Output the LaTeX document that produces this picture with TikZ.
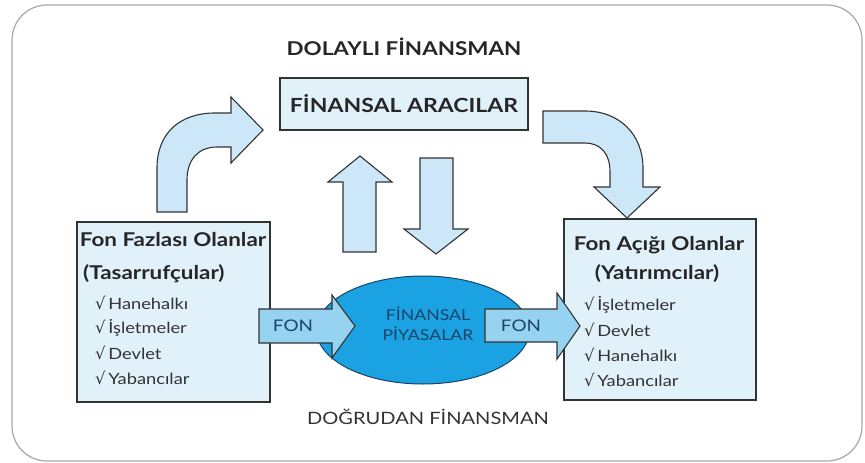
\documentclass[tikz,border=0pt]{standalone}
\usepackage{fontspec}
\setmainfont{Lato}[FakeStretch=1.18]
\newfontfamily\isaret{DejaVu Sans}
\usetikzlibrary{shapes.geometric}
\definecolor{kutumavi}{HTML}{E1F1FA}
\definecolor{okmavi}{HTML}{CCE7F7}
\definecolor{fonmavi}{HTML}{96D3F0}
\definecolor{piyasamavi}{HTML}{1AA2E2}
\definecolor{yazimavi}{HTML}{1A4468}
\definecolor{cizgi}{HTML}{333333}
\begin{document}
\begin{tikzpicture}[x=1pt, y=-1pt,
  kutu/.style={draw=cizgi, fill=kutumavi, line width=1.3pt, inner sep=0pt},
  ok/.style={draw=cizgi, fill=okmavi, line width=1.1pt, line join=miter},
  fonok/.style={ok, fill=fonmavi},
  kalin/.style={font=\fontsize{19}{21}\selectfont\bfseries, text=black!85, inner sep=1pt},
  madde/.style={anchor=west, font=\fontsize{15.5}{17}\selectfont, text=black!80, inner sep=1pt},
  ince/.style={font=\fontsize{17}{20}\selectfont, text=black!80}]
  \useasboundingbox (0,0) rectangle (865,463);
  \draw[gray!70, line width=1.2pt, rounded corners=35pt] (12,5) rectangle (862,461);

  \node[kalin] (dolayli) at (404,47) {DOLAYLI FİNANSMAN};
  \node[kutu, kalin, font=\fontsize{19.5}{22}\selectfont\bfseries,
        minimum width=248pt, minimum height=52pt] (aracilar) at (404,104) {FİNANSAL ARACILAR};

  \draw[ok] (157,212) -- (157,168) .. controls (157,133) and (180,113) .. (215,113)
    -- (231,113) -- (231,97) -- (263,130) -- (231,163) -- (231,147) -- (217,147)
    .. controls (198,147) and (187,160) .. (187,180) -- (187,212) -- cycle;
  \draw[ok] (543,111) -- (585,111) .. controls (620,111) and (643,135) .. (643,168)
    -- (643,187) -- (660,187) -- (627,218) -- (594,187) -- (610,187) -- (610,172)
    .. controls (610,153) and (600,143) .. (585,143) -- (543,143) -- cycle;
  \draw[ok] (343,252) -- (343,182) -- (328,182) -- (360,156) -- (392,182)
    -- (376,182) -- (376,252) -- cycle;
  \draw[ok] (420,158) -- (453,158) -- (453,229) -- (468,229) -- (436,254)
    -- (404,229) -- (420,229) -- cycle;

  \node[kutu, minimum width=193pt, minimum height=180pt] (fazla) at (173.5,312) {};
  \node[kalin] (fazlabas) at (173,240) {Fon Fazlası Olanlar};
  \node[kalin, anchor=west] (tasarruf) at (82,274) {(Tasarrufçular)};
  \foreach \y/\ad [count=\i] in {303/Hanehalkı, 328/İşletmeler, 353/Devlet, 378/Yabancılar}
    \node[madde] (sol\i) at (94,\y) {{\isaret\fontsize{16.5}{17}\selectfont √}\,\ad};

  \node[kutu, minimum width=192pt, minimum height=181pt] (acik) at (660,309.5) {};
  \node[kalin] (acikbas) at (659,245) {Fon Açığı Olanlar};
  \node[kalin] (yatirim) at (657,274) {(Yatırımcılar)};
  \foreach \y/\ad [count=\i] in {305/İşletmeler, 330/Devlet, 355/Hanehalkı, 380/Yabancılar}
    \node[madde] (sag\i) at (583,\y) {{\isaret\fontsize{16.5}{17}\selectfont √}\,\ad};

  \node[ellipse, draw=yazimavi, fill=piyasamavi, line width=1pt,
        minimum width=213pt, minimum height=108pt] (piyasa) at (423,330) {};
  \node[align=center, text=yazimavi, font=\fontsize{15}{20}\selectfont] (piyasayazi)
    at (428,324) {FİNANSAL\\PİYASALAR};

  \draw[fonok] (259,309) -- (332,309) -- (332,295) -- (355,326) -- (332,358)
    -- (332,343) -- (259,343) -- cycle;
  \node[text=yazimavi, font=\fontsize{16}{20}\selectfont] (fon1) at (293,326) {FON};
  \draw[fonok] (485,309) -- (557,309) -- (557,293) -- (580,326) -- (557,359)
    -- (557,342) -- (485,342) -- cycle;
  \node[text=yazimavi, font=\fontsize{16}{20}\selectfont] (fon2) at (521,326) {FON};

  \node[ince] (dogrudan) at (428,417) {DOĞRUDAN FİNANSMAN};
\end{tikzpicture}
\end{document}
